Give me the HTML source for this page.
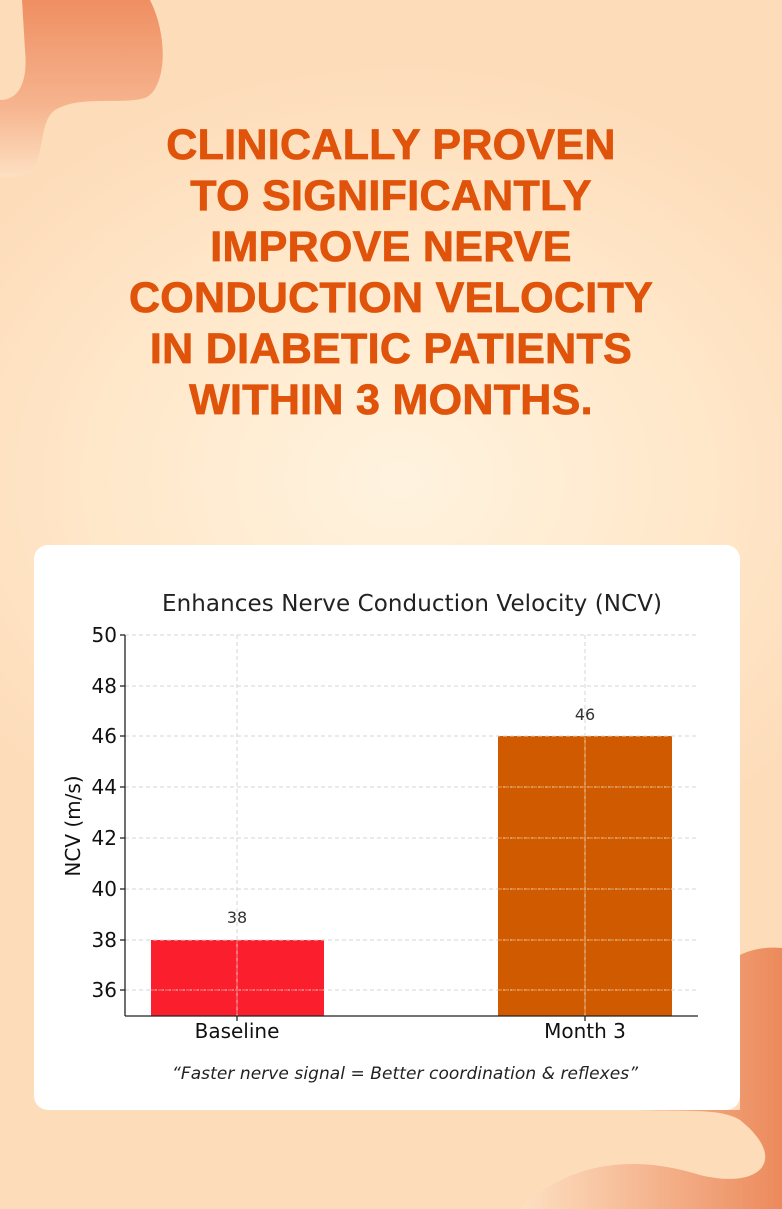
<!DOCTYPE html>
<html><head><style>
html,body{margin:0;padding:0}
body{width:782px;height:1209px;position:relative;overflow:hidden;
background:radial-gradient(ellipse 520px 420px at 400px 480px,#fff3df 0%,#ffe7c9 60%,#fddcb9 100%);}
h1{position:absolute;top:120px;left:0;width:782px;margin:0;text-align:center;
font-family:"Liberation Sans",sans-serif;font-weight:bold;font-size:43px;line-height:51px;color:#e0530a;letter-spacing:0.3px;-webkit-text-stroke:0.8px #e0530a}
.card{position:absolute;left:34px;top:545px;width:706px;height:565px;background:#fff;border-radius:14px}
</style></head><body>
<svg width="782" height="1209" style="position:absolute;left:0;top:0">
<defs>
<linearGradient id="g1" x1="0" y1="0" x2="0" y2="1"><stop offset="0" stop-color="#ef8f62"/><stop offset="0.6" stop-color="#f6b48e"/><stop offset="1" stop-color="#fde0c2"/></linearGradient>
<linearGradient id="g2" x1="0" y1="0" x2="1" y2="0"><stop offset="0" stop-color="#fde0c2"/><stop offset="1" stop-color="#ec8a5c"/></linearGradient>
</defs>
<path d="M22,0 L150,0 C170,40 165,90 145,98 C120,105 80,95 55,110 C38,122 45,160 30,172 C15,180 0,176 0,176 L0,100 C20,100 28,80 25,50 Z" fill="url(#g1)"/>
<path d="M740,955 C760,945 782,948 782,948 L782,1209 L520,1209 C560,1170 620,1150 700,1175 C760,1190 790,1160 740,1120 C720,1108 690,1112 640,1110 L740,1110 Z" fill="url(#g2)"/>
</svg>
<h1>CLINICALLY PROVEN<br>TO SIGNIFICANTLY<br>IMPROVE NERVE<br>CONDUCTION VELOCITY<br>IN DIABETIC PATIENTS<br>WITHIN 3 MONTHS.</h1>
<div class="card"></div>
<svg width="782" height="1209" style="position:absolute;left:0;top:0" font-family="DejaVu Sans, sans-serif">
<text x="412" y="611" font-size="23" text-anchor="middle" fill="#222" textLength="500">Enhances Nerve Conduction Velocity (NCV)</text>
<rect x="151" y="940" width="173" height="76" fill="#fb1f2d"/>
<rect x="498" y="736" width="174" height="280" fill="#cf5a00"/>
<g stroke="#d4d4d4" stroke-dasharray="4,3" stroke-width="1">
<line x1="125" x2="698" y1="635" y2="635"/><line x1="125" x2="698" y1="686" y2="686"/>
<line x1="125" x2="698" y1="736" y2="736"/><line x1="125" x2="698" y1="787" y2="787"/>
<line x1="125" x2="698" y1="838" y2="838"/><line x1="125" x2="698" y1="889" y2="889"/>
<line x1="125" x2="698" y1="940" y2="940"/><line x1="125" x2="698" y1="990" y2="990"/>
<line x1="237" x2="237" y1="635" y2="1016"/><line x1="585" x2="585" y1="635" y2="1016"/>
</g>
<g stroke="#f6a04a" stroke-dasharray="4,3"><line x1="498" x2="672" y1="787" y2="787"/><line x1="498" x2="672" y1="838" y2="838"/><line x1="498" x2="672" y1="889" y2="889"/><line x1="498" x2="672" y1="940" y2="940"/><line x1="498" x2="672" y1="990" y2="990"/><line x1="585" x2="585" y1="736" y2="1016"/><line x1="151" x2="324" y1="990" y2="990" stroke="#ff7a7a"/><line x1="237" x2="237" y1="940" y2="1016" stroke="#ff7a7a"/></g>
<g stroke="#222" stroke-width="1.3"><line x1="125" x2="125" y1="635" y2="1016"/><line x1="125" x2="698" y1="1016" y2="1016"/>
<line x1="237" x2="237" y1="1016" y2="1021"/><line x1="585" x2="585" y1="1016" y2="1021"/>
<line x1="120" x2="125" y1="635" y2="635"/><line x1="120" x2="125" y1="686" y2="686"/><line x1="120" x2="125" y1="736" y2="736"/><line x1="120" x2="125" y1="787" y2="787"/><line x1="120" x2="125" y1="838" y2="838"/><line x1="120" x2="125" y1="889" y2="889"/><line x1="120" x2="125" y1="940" y2="940"/><line x1="120" x2="125" y1="990" y2="990"/></g>
<g font-size="20" fill="#111" text-anchor="end">
<text x="117" y="642">50</text><text x="117" y="693">48</text><text x="117" y="743">46</text><text x="117" y="794">44</text><text x="117" y="845">42</text><text x="117" y="896">40</text><text x="117" y="947">38</text><text x="117" y="997">36</text></g>
<text transform="translate(80,826) rotate(-90)" font-size="20" text-anchor="middle" fill="#111">NCV (m/s)</text>
<g font-size="20" fill="#111" text-anchor="middle"><text x="237" y="1038">Baseline</text><text x="585" y="1038">Month 3</text></g>
<g font-size="16" fill="#333" text-anchor="middle"><text x="237" y="923">38</text><text x="585" y="720">46</text></g>
<text x="405" y="1079" font-size="17" font-style="italic" fill="#222" text-anchor="middle" textLength="466">“Faster nerve signal = Better coordination &amp; reflexes”</text>
</svg>
</body></html>
